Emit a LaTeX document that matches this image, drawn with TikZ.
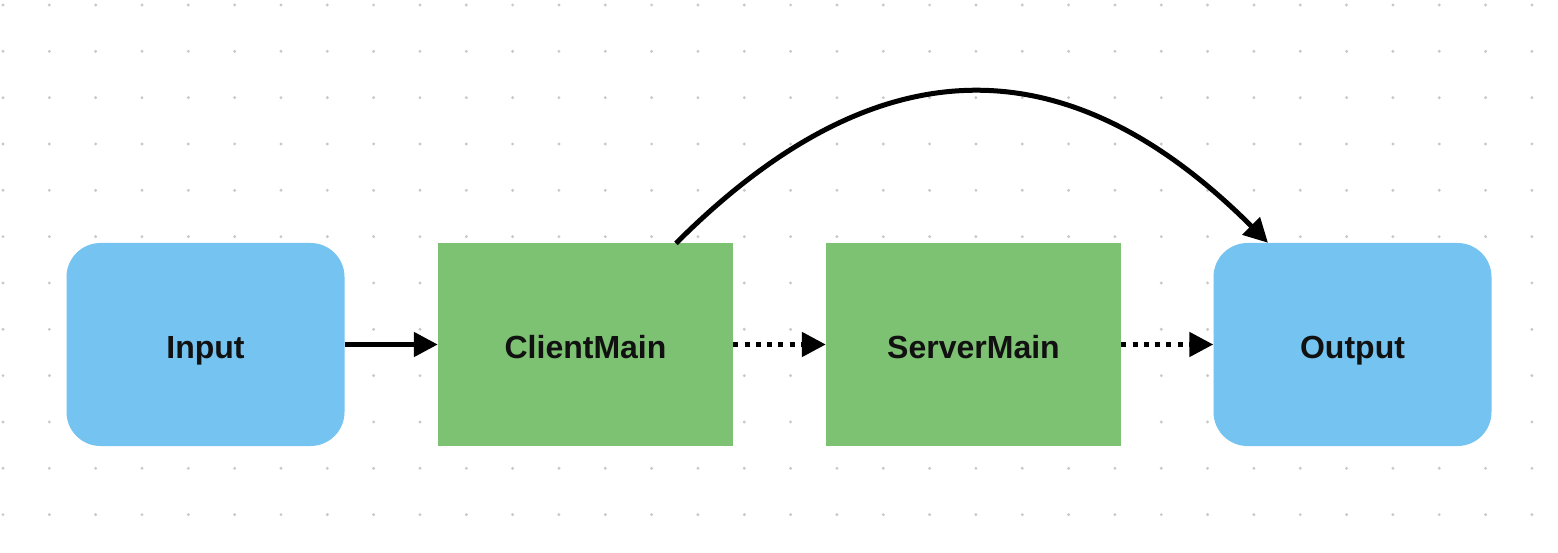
\documentclass[tikz,border=0pt]{standalone}
\usepackage{fontspec}
\setmainfont{Liberation Sans}
\usetikzlibrary{arrows.meta}
\definecolor{boxblue}{HTML}{74C3F0}
\definecolor{boxgreen}{HTML}{7DC172}
\definecolor{griddot}{HTML}{C8C8C8}
\definecolor{labelink}{HTML}{111111}
\begin{document}
\begin{tikzpicture}[x=1pt,y=1pt,
  endbox/.style={fill=boxblue, draw=none, rounded corners=34pt, minimum width=278pt, minimum height=203pt, inner sep=0pt},
  procbox/.style={fill=boxgreen, draw=none, minimum width=295pt, minimum height=202pt, inner sep=0pt},
  boxlabel/.style={font=\bfseries\fontsize{32}{36}\selectfont, text=labelink, text height=23.5pt, text depth=0pt, inner sep=0pt, yshift=-2pt},
  conn/.style={line width=5pt, -{Triangle[length=24pt,width=24pt]}},
  dottedconn/.style={conn, dash pattern=on 5pt off 6.3pt}
]
\useasboundingbox (0,0) rectangle (1558,552);
\fill[white] (0,0) rectangle (1558,552);
% dot grid
\foreach \i in {0,...,33}{
  \foreach \j in {0,...,11}{
    \fill[griddot] ({3+46.33*\i},{552-5-46.33*\j}) circle (1.6pt);
  }
}
\node[endbox] (in) at (205.5,207.5) {};
\node[boxlabel] at (in.center) {Input};
\node[procbox] (cm) at (585.5,207.5) {};
\node[boxlabel] at (cm.center) {ClientMain};
\node[procbox] (sm) at (973.5,207.5) {};
\node[boxlabel] at (sm.center) {ServerMain};
\node[endbox] (out) at (1352.5,207.5) {};
\node[boxlabel] at (out.center) {Output};

\draw[conn] (in.east) -- (cm.west);
\draw[dottedconn] (cm.east) -- (sm.west);
\draw[dottedconn] (sm.east) -- (out.west);
\draw[conn] ([xshift=90.5pt]cm.north) .. controls +(201,201) and +(-201,201) .. ([xshift=-84.5pt]out.north);
\end{tikzpicture}
\end{document}
